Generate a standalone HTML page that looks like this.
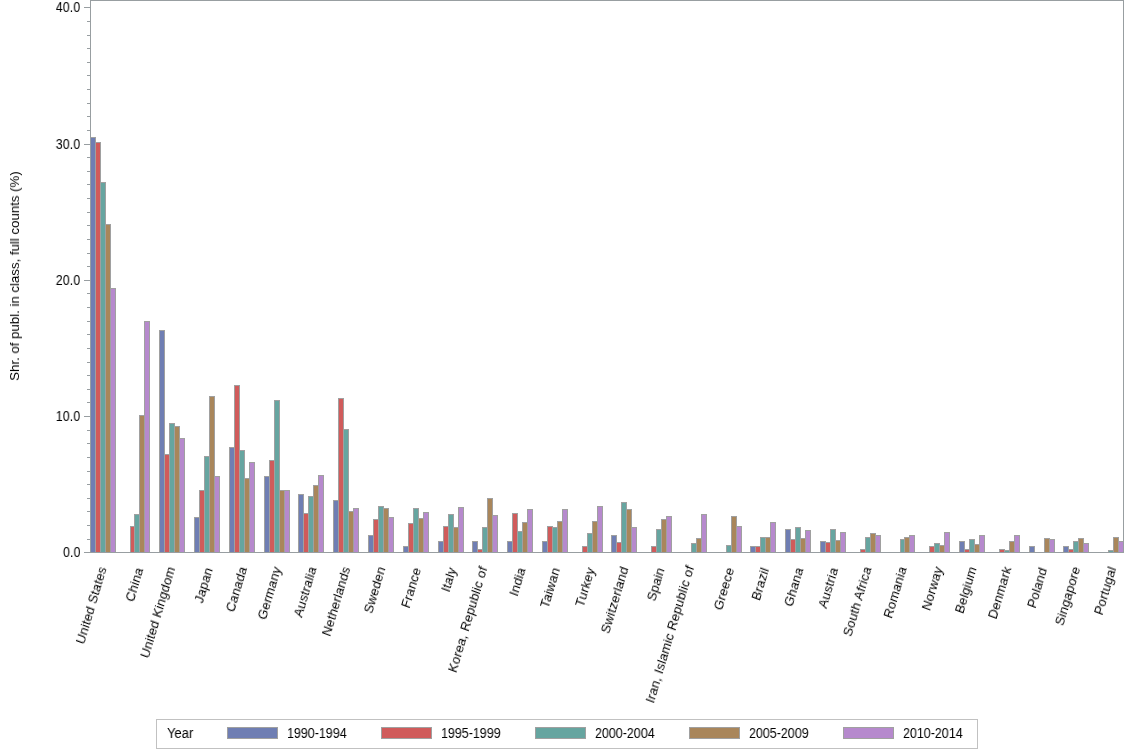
<!DOCTYPE html><html><head><meta charset="utf-8"><style>
html,body{margin:0;padding:0;background:#fff;width:1134px;height:756px;overflow:hidden;position:relative;font-family:"Liberation Sans",sans-serif;color:#000}
.yl{position:absolute;font-size:14.0px;line-height:16px;text-align:right;white-space:nowrap;will-change:transform;transform-origin:100% 50%;transform:scaleX(0.9)}
.xl{position:absolute;font-size:13.0px;line-height:16px;white-space:nowrap;letter-spacing:0.15px;will-change:transform;transform-origin:100% 50%;transform:rotate(-73.5deg) skewX(-4.0deg) scaleX(1.0)}
.lg{position:absolute;font-size:14.0px;line-height:16px;white-space:nowrap;will-change:transform;transform-origin:0 50%;transform:scaleX(0.9)}
.sw{position:absolute;box-sizing:border-box;border:1px solid #A0A0A0;height:12px;width:51px}
</style></head><body>
<svg width="1134" height="756" viewBox="0 0 1134 756" shape-rendering="crispEdges" style="position:absolute;left:0;top:0">
<rect x="90" y="137" width="6" height="416" fill="#A0A0A0"/>
<rect x="91" y="138" width="4" height="415" fill="#6F7EB3"/>
<rect x="95" y="142" width="6" height="411" fill="#A0A0A0"/>
<rect x="96" y="143" width="4" height="410" fill="#D05B5B"/>
<rect x="100" y="182" width="6" height="371" fill="#A0A0A0"/>
<rect x="101" y="183" width="4" height="370" fill="#66A5A0"/>
<rect x="105" y="224" width="6" height="329" fill="#A0A0A0"/>
<rect x="106" y="225" width="4" height="328" fill="#A9865B"/>
<rect x="110" y="288" width="6" height="265" fill="#A0A0A0"/>
<rect x="111" y="289" width="4" height="264" fill="#B689CD"/>
<rect x="130" y="526" width="5" height="27" fill="#A0A0A0"/>
<rect x="131" y="527" width="3" height="26" fill="#D05B5B"/>
<rect x="134" y="514" width="6" height="39" fill="#A0A0A0"/>
<rect x="135" y="515" width="4" height="38" fill="#66A5A0"/>
<rect x="139" y="415" width="6" height="138" fill="#A0A0A0"/>
<rect x="140" y="416" width="4" height="137" fill="#A9865B"/>
<rect x="144" y="321" width="6" height="232" fill="#A0A0A0"/>
<rect x="145" y="322" width="4" height="231" fill="#B689CD"/>
<rect x="159" y="330" width="6" height="223" fill="#A0A0A0"/>
<rect x="160" y="331" width="4" height="222" fill="#6F7EB3"/>
<rect x="164" y="454" width="6" height="99" fill="#A0A0A0"/>
<rect x="165" y="455" width="4" height="98" fill="#D05B5B"/>
<rect x="169" y="423" width="6" height="130" fill="#A0A0A0"/>
<rect x="170" y="424" width="4" height="129" fill="#66A5A0"/>
<rect x="174" y="426" width="6" height="127" fill="#A0A0A0"/>
<rect x="175" y="427" width="4" height="126" fill="#A9865B"/>
<rect x="179" y="438" width="6" height="115" fill="#A0A0A0"/>
<rect x="180" y="439" width="4" height="114" fill="#B689CD"/>
<rect x="194" y="517" width="6" height="36" fill="#A0A0A0"/>
<rect x="195" y="518" width="4" height="35" fill="#6F7EB3"/>
<rect x="199" y="490" width="6" height="63" fill="#A0A0A0"/>
<rect x="200" y="491" width="4" height="62" fill="#D05B5B"/>
<rect x="204" y="456" width="6" height="97" fill="#A0A0A0"/>
<rect x="205" y="457" width="4" height="96" fill="#66A5A0"/>
<rect x="209" y="396" width="6" height="157" fill="#A0A0A0"/>
<rect x="210" y="397" width="4" height="156" fill="#A9865B"/>
<rect x="214" y="476" width="6" height="77" fill="#A0A0A0"/>
<rect x="215" y="477" width="4" height="76" fill="#B689CD"/>
<rect x="229" y="447" width="6" height="106" fill="#A0A0A0"/>
<rect x="230" y="448" width="4" height="105" fill="#6F7EB3"/>
<rect x="234" y="385" width="6" height="168" fill="#A0A0A0"/>
<rect x="235" y="386" width="4" height="167" fill="#D05B5B"/>
<rect x="239" y="450" width="6" height="103" fill="#A0A0A0"/>
<rect x="240" y="451" width="4" height="102" fill="#66A5A0"/>
<rect x="244" y="478" width="6" height="75" fill="#A0A0A0"/>
<rect x="245" y="479" width="4" height="74" fill="#A9865B"/>
<rect x="249" y="462" width="6" height="91" fill="#A0A0A0"/>
<rect x="250" y="463" width="4" height="90" fill="#B689CD"/>
<rect x="264" y="476" width="6" height="77" fill="#A0A0A0"/>
<rect x="265" y="477" width="4" height="76" fill="#6F7EB3"/>
<rect x="269" y="460" width="6" height="93" fill="#A0A0A0"/>
<rect x="270" y="461" width="4" height="92" fill="#D05B5B"/>
<rect x="274" y="400" width="6" height="153" fill="#A0A0A0"/>
<rect x="275" y="401" width="4" height="152" fill="#66A5A0"/>
<rect x="279" y="490" width="6" height="63" fill="#A0A0A0"/>
<rect x="280" y="491" width="4" height="62" fill="#A9865B"/>
<rect x="284" y="490" width="6" height="63" fill="#A0A0A0"/>
<rect x="285" y="491" width="4" height="62" fill="#B689CD"/>
<rect x="298" y="494" width="6" height="59" fill="#A0A0A0"/>
<rect x="299" y="495" width="4" height="58" fill="#6F7EB3"/>
<rect x="303" y="513" width="6" height="40" fill="#A0A0A0"/>
<rect x="304" y="514" width="4" height="39" fill="#D05B5B"/>
<rect x="308" y="496" width="6" height="57" fill="#A0A0A0"/>
<rect x="309" y="497" width="4" height="56" fill="#66A5A0"/>
<rect x="313" y="485" width="6" height="68" fill="#A0A0A0"/>
<rect x="314" y="486" width="4" height="67" fill="#A9865B"/>
<rect x="318" y="475" width="6" height="78" fill="#A0A0A0"/>
<rect x="319" y="476" width="4" height="77" fill="#B689CD"/>
<rect x="333" y="500" width="6" height="53" fill="#A0A0A0"/>
<rect x="334" y="501" width="4" height="52" fill="#6F7EB3"/>
<rect x="338" y="398" width="6" height="155" fill="#A0A0A0"/>
<rect x="339" y="399" width="4" height="154" fill="#D05B5B"/>
<rect x="343" y="429" width="6" height="124" fill="#A0A0A0"/>
<rect x="344" y="430" width="4" height="123" fill="#66A5A0"/>
<rect x="348" y="511" width="6" height="42" fill="#A0A0A0"/>
<rect x="349" y="512" width="4" height="41" fill="#A9865B"/>
<rect x="353" y="508" width="6" height="45" fill="#A0A0A0"/>
<rect x="354" y="509" width="4" height="44" fill="#B689CD"/>
<rect x="368" y="535" width="6" height="18" fill="#A0A0A0"/>
<rect x="369" y="536" width="4" height="17" fill="#6F7EB3"/>
<rect x="373" y="519" width="6" height="34" fill="#A0A0A0"/>
<rect x="374" y="520" width="4" height="33" fill="#D05B5B"/>
<rect x="378" y="506" width="6" height="47" fill="#A0A0A0"/>
<rect x="379" y="507" width="4" height="46" fill="#66A5A0"/>
<rect x="383" y="508" width="6" height="45" fill="#A0A0A0"/>
<rect x="384" y="509" width="4" height="44" fill="#A9865B"/>
<rect x="388" y="517" width="6" height="36" fill="#A0A0A0"/>
<rect x="389" y="518" width="4" height="35" fill="#B689CD"/>
<rect x="403" y="546" width="6" height="7" fill="#A0A0A0"/>
<rect x="404" y="547" width="4" height="6" fill="#6F7EB3"/>
<rect x="408" y="523" width="6" height="30" fill="#A0A0A0"/>
<rect x="409" y="524" width="4" height="29" fill="#D05B5B"/>
<rect x="413" y="508" width="6" height="45" fill="#A0A0A0"/>
<rect x="414" y="509" width="4" height="44" fill="#66A5A0"/>
<rect x="418" y="518" width="6" height="35" fill="#A0A0A0"/>
<rect x="419" y="519" width="4" height="34" fill="#A9865B"/>
<rect x="423" y="512" width="6" height="41" fill="#A0A0A0"/>
<rect x="424" y="513" width="4" height="40" fill="#B689CD"/>
<rect x="438" y="541" width="6" height="12" fill="#A0A0A0"/>
<rect x="439" y="542" width="4" height="11" fill="#6F7EB3"/>
<rect x="443" y="526" width="6" height="27" fill="#A0A0A0"/>
<rect x="444" y="527" width="4" height="26" fill="#D05B5B"/>
<rect x="448" y="514" width="6" height="39" fill="#A0A0A0"/>
<rect x="449" y="515" width="4" height="38" fill="#66A5A0"/>
<rect x="453" y="527" width="6" height="26" fill="#A0A0A0"/>
<rect x="454" y="528" width="4" height="25" fill="#A9865B"/>
<rect x="458" y="507" width="6" height="46" fill="#A0A0A0"/>
<rect x="459" y="508" width="4" height="45" fill="#B689CD"/>
<rect x="472" y="541" width="6" height="12" fill="#A0A0A0"/>
<rect x="473" y="542" width="4" height="11" fill="#6F7EB3"/>
<rect x="477" y="549" width="6" height="4" fill="#A0A0A0"/>
<rect x="478" y="550" width="4" height="3" fill="#D05B5B"/>
<rect x="482" y="527" width="6" height="26" fill="#A0A0A0"/>
<rect x="483" y="528" width="4" height="25" fill="#66A5A0"/>
<rect x="487" y="498" width="6" height="55" fill="#A0A0A0"/>
<rect x="488" y="499" width="4" height="54" fill="#A9865B"/>
<rect x="492" y="515" width="6" height="38" fill="#A0A0A0"/>
<rect x="493" y="516" width="4" height="37" fill="#B689CD"/>
<rect x="507" y="541" width="6" height="12" fill="#A0A0A0"/>
<rect x="508" y="542" width="4" height="11" fill="#6F7EB3"/>
<rect x="512" y="513" width="6" height="40" fill="#A0A0A0"/>
<rect x="513" y="514" width="4" height="39" fill="#D05B5B"/>
<rect x="517" y="531" width="6" height="22" fill="#A0A0A0"/>
<rect x="518" y="532" width="4" height="21" fill="#66A5A0"/>
<rect x="522" y="522" width="6" height="31" fill="#A0A0A0"/>
<rect x="523" y="523" width="4" height="30" fill="#A9865B"/>
<rect x="527" y="509" width="6" height="44" fill="#A0A0A0"/>
<rect x="528" y="510" width="4" height="43" fill="#B689CD"/>
<rect x="542" y="541" width="6" height="12" fill="#A0A0A0"/>
<rect x="543" y="542" width="4" height="11" fill="#6F7EB3"/>
<rect x="547" y="526" width="6" height="27" fill="#A0A0A0"/>
<rect x="548" y="527" width="4" height="26" fill="#D05B5B"/>
<rect x="552" y="527" width="6" height="26" fill="#A0A0A0"/>
<rect x="553" y="528" width="4" height="25" fill="#66A5A0"/>
<rect x="557" y="521" width="6" height="32" fill="#A0A0A0"/>
<rect x="558" y="522" width="4" height="31" fill="#A9865B"/>
<rect x="562" y="509" width="6" height="44" fill="#A0A0A0"/>
<rect x="563" y="510" width="4" height="43" fill="#B689CD"/>
<rect x="582" y="546" width="6" height="7" fill="#A0A0A0"/>
<rect x="583" y="547" width="4" height="6" fill="#D05B5B"/>
<rect x="587" y="533" width="6" height="20" fill="#A0A0A0"/>
<rect x="588" y="534" width="4" height="19" fill="#66A5A0"/>
<rect x="592" y="521" width="6" height="32" fill="#A0A0A0"/>
<rect x="593" y="522" width="4" height="31" fill="#A9865B"/>
<rect x="597" y="506" width="6" height="47" fill="#A0A0A0"/>
<rect x="598" y="507" width="4" height="46" fill="#B689CD"/>
<rect x="611" y="535" width="6" height="18" fill="#A0A0A0"/>
<rect x="612" y="536" width="4" height="17" fill="#6F7EB3"/>
<rect x="616" y="542" width="6" height="11" fill="#A0A0A0"/>
<rect x="617" y="543" width="4" height="10" fill="#D05B5B"/>
<rect x="621" y="502" width="6" height="51" fill="#A0A0A0"/>
<rect x="622" y="503" width="4" height="50" fill="#66A5A0"/>
<rect x="626" y="509" width="6" height="44" fill="#A0A0A0"/>
<rect x="627" y="510" width="4" height="43" fill="#A9865B"/>
<rect x="631" y="527" width="6" height="26" fill="#A0A0A0"/>
<rect x="632" y="528" width="4" height="25" fill="#B689CD"/>
<rect x="651" y="546" width="6" height="7" fill="#A0A0A0"/>
<rect x="652" y="547" width="4" height="6" fill="#D05B5B"/>
<rect x="656" y="529" width="6" height="24" fill="#A0A0A0"/>
<rect x="657" y="530" width="4" height="23" fill="#66A5A0"/>
<rect x="661" y="519" width="6" height="34" fill="#A0A0A0"/>
<rect x="662" y="520" width="4" height="33" fill="#A9865B"/>
<rect x="666" y="516" width="6" height="37" fill="#A0A0A0"/>
<rect x="667" y="517" width="4" height="36" fill="#B689CD"/>
<rect x="691" y="543" width="6" height="10" fill="#A0A0A0"/>
<rect x="692" y="544" width="4" height="9" fill="#66A5A0"/>
<rect x="696" y="538" width="6" height="15" fill="#A0A0A0"/>
<rect x="697" y="539" width="4" height="14" fill="#A9865B"/>
<rect x="701" y="514" width="6" height="39" fill="#A0A0A0"/>
<rect x="702" y="515" width="4" height="38" fill="#B689CD"/>
<rect x="726" y="545" width="6" height="8" fill="#A0A0A0"/>
<rect x="727" y="546" width="4" height="7" fill="#66A5A0"/>
<rect x="731" y="516" width="6" height="37" fill="#A0A0A0"/>
<rect x="732" y="517" width="4" height="36" fill="#A9865B"/>
<rect x="736" y="526" width="6" height="27" fill="#A0A0A0"/>
<rect x="737" y="527" width="4" height="26" fill="#B689CD"/>
<rect x="750" y="546" width="6" height="7" fill="#A0A0A0"/>
<rect x="751" y="547" width="4" height="6" fill="#6F7EB3"/>
<rect x="755" y="546" width="6" height="7" fill="#A0A0A0"/>
<rect x="756" y="547" width="4" height="6" fill="#D05B5B"/>
<rect x="760" y="537" width="6" height="16" fill="#A0A0A0"/>
<rect x="761" y="538" width="4" height="15" fill="#66A5A0"/>
<rect x="765" y="537" width="6" height="16" fill="#A0A0A0"/>
<rect x="766" y="538" width="4" height="15" fill="#A9865B"/>
<rect x="770" y="522" width="6" height="31" fill="#A0A0A0"/>
<rect x="771" y="523" width="4" height="30" fill="#B689CD"/>
<rect x="785" y="529" width="6" height="24" fill="#A0A0A0"/>
<rect x="786" y="530" width="4" height="23" fill="#6F7EB3"/>
<rect x="790" y="539" width="6" height="14" fill="#A0A0A0"/>
<rect x="791" y="540" width="4" height="13" fill="#D05B5B"/>
<rect x="795" y="527" width="6" height="26" fill="#A0A0A0"/>
<rect x="796" y="528" width="4" height="25" fill="#66A5A0"/>
<rect x="800" y="538" width="6" height="15" fill="#A0A0A0"/>
<rect x="801" y="539" width="4" height="14" fill="#A9865B"/>
<rect x="805" y="530" width="6" height="23" fill="#A0A0A0"/>
<rect x="806" y="531" width="4" height="22" fill="#B689CD"/>
<rect x="820" y="541" width="6" height="12" fill="#A0A0A0"/>
<rect x="821" y="542" width="4" height="11" fill="#6F7EB3"/>
<rect x="825" y="542" width="6" height="11" fill="#A0A0A0"/>
<rect x="826" y="543" width="4" height="10" fill="#D05B5B"/>
<rect x="830" y="529" width="6" height="24" fill="#A0A0A0"/>
<rect x="831" y="530" width="4" height="23" fill="#66A5A0"/>
<rect x="835" y="540" width="6" height="13" fill="#A0A0A0"/>
<rect x="836" y="541" width="4" height="12" fill="#A9865B"/>
<rect x="840" y="532" width="6" height="21" fill="#A0A0A0"/>
<rect x="841" y="533" width="4" height="20" fill="#B689CD"/>
<rect x="860" y="549" width="6" height="4" fill="#A0A0A0"/>
<rect x="861" y="550" width="4" height="3" fill="#D05B5B"/>
<rect x="865" y="537" width="6" height="16" fill="#A0A0A0"/>
<rect x="866" y="538" width="4" height="15" fill="#66A5A0"/>
<rect x="870" y="533" width="6" height="20" fill="#A0A0A0"/>
<rect x="871" y="534" width="4" height="19" fill="#A9865B"/>
<rect x="875" y="535" width="6" height="18" fill="#A0A0A0"/>
<rect x="876" y="536" width="4" height="17" fill="#B689CD"/>
<rect x="900" y="539" width="5" height="14" fill="#A0A0A0"/>
<rect x="901" y="540" width="3" height="13" fill="#66A5A0"/>
<rect x="904" y="537" width="6" height="16" fill="#A0A0A0"/>
<rect x="905" y="538" width="4" height="15" fill="#A9865B"/>
<rect x="909" y="535" width="6" height="18" fill="#A0A0A0"/>
<rect x="910" y="536" width="4" height="17" fill="#B689CD"/>
<rect x="929" y="546" width="6" height="7" fill="#A0A0A0"/>
<rect x="930" y="547" width="4" height="6" fill="#D05B5B"/>
<rect x="934" y="543" width="6" height="10" fill="#A0A0A0"/>
<rect x="935" y="544" width="4" height="9" fill="#66A5A0"/>
<rect x="939" y="545" width="6" height="8" fill="#A0A0A0"/>
<rect x="940" y="546" width="4" height="7" fill="#A9865B"/>
<rect x="944" y="532" width="6" height="21" fill="#A0A0A0"/>
<rect x="945" y="533" width="4" height="20" fill="#B689CD"/>
<rect x="959" y="541" width="6" height="12" fill="#A0A0A0"/>
<rect x="960" y="542" width="4" height="11" fill="#6F7EB3"/>
<rect x="964" y="549" width="6" height="4" fill="#A0A0A0"/>
<rect x="965" y="550" width="4" height="3" fill="#D05B5B"/>
<rect x="969" y="539" width="6" height="14" fill="#A0A0A0"/>
<rect x="970" y="540" width="4" height="13" fill="#66A5A0"/>
<rect x="974" y="544" width="6" height="9" fill="#A0A0A0"/>
<rect x="975" y="545" width="4" height="8" fill="#A9865B"/>
<rect x="979" y="535" width="6" height="18" fill="#A0A0A0"/>
<rect x="980" y="536" width="4" height="17" fill="#B689CD"/>
<rect x="999" y="549" width="6" height="4" fill="#A0A0A0"/>
<rect x="1000" y="550" width="4" height="3" fill="#D05B5B"/>
<rect x="1004" y="550" width="6" height="3" fill="#A0A0A0"/>
<rect x="1005" y="551" width="4" height="2" fill="#66A5A0"/>
<rect x="1009" y="541" width="6" height="12" fill="#A0A0A0"/>
<rect x="1010" y="542" width="4" height="11" fill="#A9865B"/>
<rect x="1014" y="535" width="6" height="18" fill="#A0A0A0"/>
<rect x="1015" y="536" width="4" height="17" fill="#B689CD"/>
<rect x="1029" y="546" width="6" height="7" fill="#A0A0A0"/>
<rect x="1030" y="547" width="4" height="6" fill="#6F7EB3"/>
<rect x="1044" y="538" width="6" height="15" fill="#A0A0A0"/>
<rect x="1045" y="539" width="4" height="14" fill="#A9865B"/>
<rect x="1049" y="539" width="6" height="14" fill="#A0A0A0"/>
<rect x="1050" y="540" width="4" height="13" fill="#B689CD"/>
<rect x="1063" y="546" width="6" height="7" fill="#A0A0A0"/>
<rect x="1064" y="547" width="4" height="6" fill="#6F7EB3"/>
<rect x="1068" y="549" width="6" height="4" fill="#A0A0A0"/>
<rect x="1069" y="550" width="4" height="3" fill="#D05B5B"/>
<rect x="1073" y="541" width="6" height="12" fill="#A0A0A0"/>
<rect x="1074" y="542" width="4" height="11" fill="#66A5A0"/>
<rect x="1078" y="538" width="6" height="15" fill="#A0A0A0"/>
<rect x="1079" y="539" width="4" height="14" fill="#A9865B"/>
<rect x="1083" y="543" width="6" height="10" fill="#A0A0A0"/>
<rect x="1084" y="544" width="4" height="9" fill="#B689CD"/>
<rect x="1108" y="550" width="6" height="3" fill="#A0A0A0"/>
<rect x="1109" y="551" width="4" height="2" fill="#66A5A0"/>
<rect x="1113" y="537" width="6" height="16" fill="#A0A0A0"/>
<rect x="1114" y="538" width="4" height="15" fill="#A9865B"/>
<rect x="1118" y="541" width="6" height="12" fill="#A0A0A0"/>
<rect x="1119" y="542" width="4" height="11" fill="#B689CD"/>
<rect x="1124" y="0" width="10" height="560" fill="#fff"/>
<rect x="90" y="0" width="1" height="553" fill="#989EA1"/>
<rect x="90" y="552" width="1034" height="1" fill="#989EA1"/>
<rect x="90" y="0" width="1034" height="1" fill="#989EA1"/>
<rect x="1123" y="0" width="1" height="553" fill="#989EA1"/>
<rect x="84" y="7" width="6" height="1" fill="#989EA1"/>
<rect x="84" y="144" width="6" height="1" fill="#989EA1"/>
<rect x="84" y="280" width="6" height="1" fill="#989EA1"/>
<rect x="84" y="416" width="6" height="1" fill="#989EA1"/>
<rect x="84" y="552" width="6" height="1" fill="#989EA1"/>
<rect x="87" y="539" width="3" height="1" fill="#989EA1"/>
<rect x="87" y="525" width="3" height="1" fill="#989EA1"/>
<rect x="87" y="511" width="3" height="1" fill="#989EA1"/>
<rect x="87" y="498" width="3" height="1" fill="#989EA1"/>
<rect x="87" y="484" width="3" height="1" fill="#989EA1"/>
<rect x="87" y="471" width="3" height="1" fill="#989EA1"/>
<rect x="87" y="457" width="3" height="1" fill="#989EA1"/>
<rect x="87" y="443" width="3" height="1" fill="#989EA1"/>
<rect x="87" y="430" width="3" height="1" fill="#989EA1"/>
<rect x="87" y="402" width="3" height="1" fill="#989EA1"/>
<rect x="87" y="389" width="3" height="1" fill="#989EA1"/>
<rect x="87" y="375" width="3" height="1" fill="#989EA1"/>
<rect x="87" y="362" width="3" height="1" fill="#989EA1"/>
<rect x="87" y="348" width="3" height="1" fill="#989EA1"/>
<rect x="87" y="334" width="3" height="1" fill="#989EA1"/>
<rect x="87" y="321" width="3" height="1" fill="#989EA1"/>
<rect x="87" y="307" width="3" height="1" fill="#989EA1"/>
<rect x="87" y="293" width="3" height="1" fill="#989EA1"/>
<rect x="87" y="266" width="3" height="1" fill="#989EA1"/>
<rect x="87" y="253" width="3" height="1" fill="#989EA1"/>
<rect x="87" y="239" width="3" height="1" fill="#989EA1"/>
<rect x="87" y="225" width="3" height="1" fill="#989EA1"/>
<rect x="87" y="212" width="3" height="1" fill="#989EA1"/>
<rect x="87" y="198" width="3" height="1" fill="#989EA1"/>
<rect x="87" y="184" width="3" height="1" fill="#989EA1"/>
<rect x="87" y="171" width="3" height="1" fill="#989EA1"/>
<rect x="87" y="157" width="3" height="1" fill="#989EA1"/>
<rect x="87" y="130" width="3" height="1" fill="#989EA1"/>
<rect x="87" y="116" width="3" height="1" fill="#989EA1"/>
<rect x="87" y="103" width="3" height="1" fill="#989EA1"/>
<rect x="87" y="89" width="3" height="1" fill="#989EA1"/>
<rect x="87" y="75" width="3" height="1" fill="#989EA1"/>
<rect x="87" y="62" width="3" height="1" fill="#989EA1"/>
<rect x="87" y="48" width="3" height="1" fill="#989EA1"/>
<rect x="87" y="35" width="3" height="1" fill="#989EA1"/>
<rect x="87" y="21" width="3" height="1" fill="#989EA1"/>
</svg>
<div class="yl" style="right:1053.5px;top:-1.5px">40.0</div>
<div class="yl" style="right:1053.5px;top:135.5px">30.0</div>
<div class="yl" style="right:1053.5px;top:271.5px">20.0</div>
<div class="yl" style="right:1053.5px;top:407.5px">10.0</div>
<div class="yl" style="right:1053.5px;top:543.5px">0.0</div>
<div style="position:absolute;left:15.2px;top:276px;width:0;height:0;will-change:transform"><div style="position:absolute;font-size:13.5px;line-height:16px;white-space:nowrap;transform:translate(-50%,-50%) rotate(-90deg) scaleX(0.98);left:0;top:0">Shr. of publ. in class, full counts (%)</div></div>
<div class="xl" style="right:1031.41px;top:559.01px">United States</div>
<div class="xl" style="right:994.36px;top:559.62px">China</div>
<div class="xl" style="right:962.64px;top:558.80px">United Kingdom</div>
<div class="xl" style="right:924.91px;top:559.60px">Japan</div>
<div class="xl" style="right:890.68px;top:559.46px">Canada</div>
<div class="xl" style="right:856.33px;top:559.35px">Germany</div>
<div class="xl" style="right:821.42px;top:559.39px">Australia</div>
<div class="xl" style="right:787.68px;top:559.12px">Netherlands</div>
<div class="xl" style="right:751.71px;top:559.44px">Sweden</div>
<div class="xl" style="right:716.61px;top:559.53px">France</div>
<div class="xl" style="right:680.99px;top:559.77px">Italy</div>
<div class="xl" style="right:650.55px;top:558.60px">Korea, Republic of</div>
<div class="xl" style="right:611.70px;top:559.71px">India</div>
<div class="xl" style="right:577.58px;top:559.53px">Taiwan</div>
<div class="xl" style="right:542.75px;top:559.55px">Turkey</div>
<div class="xl" style="right:509.45px;top:559.16px">Switzerland</div>
<div class="xl" style="right:472.92px;top:559.63px">Spain</div>
<div class="xl" style="right:443.65px;top:558.16px">Iran, Islamic Republic of</div>
<div class="xl" style="right:403.89px;top:559.50px">Greece</div>
<div class="xl" style="right:368.60px;top:559.64px">Brazil</div>
<div class="xl" style="right:334.18px;top:559.55px">Ghana</div>
<div class="xl" style="right:299.49px;top:559.53px">Austria</div>
<div class="xl" style="right:266.28px;top:559.12px">South Africa</div>
<div class="xl" style="right:230.58px;top:559.37px">Romania</div>
<div class="xl" style="right:195.40px;top:559.48px">Norway</div>
<div class="xl" style="right:160.79px;top:559.44px">Belgium</div>
<div class="xl" style="right:126.33px;top:559.36px">Denmark</div>
<div class="xl" style="right:90.94px;top:559.53px">Poland</div>
<div class="xl" style="right:57.15px;top:559.27px">Singapore</div>
<div class="xl" style="right:21.83px;top:559.42px">Portugal</div>
<div style="position:absolute;left:156px;top:719px;width:822px;height:30px;box-sizing:border-box;border:1px solid #C1C1C1"></div>
<div class="lg" style="left:167px;top:724.8px;transform:scaleX(0.93)">Year</div>
<div class="sw" style="left:227px;top:727px;background:#6F7EB3"></div>
<div class="lg" style="left:287px;top:724.8px;transform:scaleX(0.89)">1990-1994</div>
<div class="sw" style="left:381px;top:727px;background:#D05B5B"></div>
<div class="lg" style="left:441px;top:724.8px;transform:scaleX(0.89)">1995-1999</div>
<div class="sw" style="left:535px;top:727px;background:#66A5A0"></div>
<div class="lg" style="left:595px;top:724.8px;transform:scaleX(0.89)">2000-2004</div>
<div class="sw" style="left:689px;top:727px;background:#A9865B"></div>
<div class="lg" style="left:749px;top:724.8px;transform:scaleX(0.89)">2005-2009</div>
<div class="sw" style="left:843px;top:727px;background:#B689CD"></div>
<div class="lg" style="left:903px;top:724.8px;transform:scaleX(0.89)">2010-2014</div>
</body></html>
